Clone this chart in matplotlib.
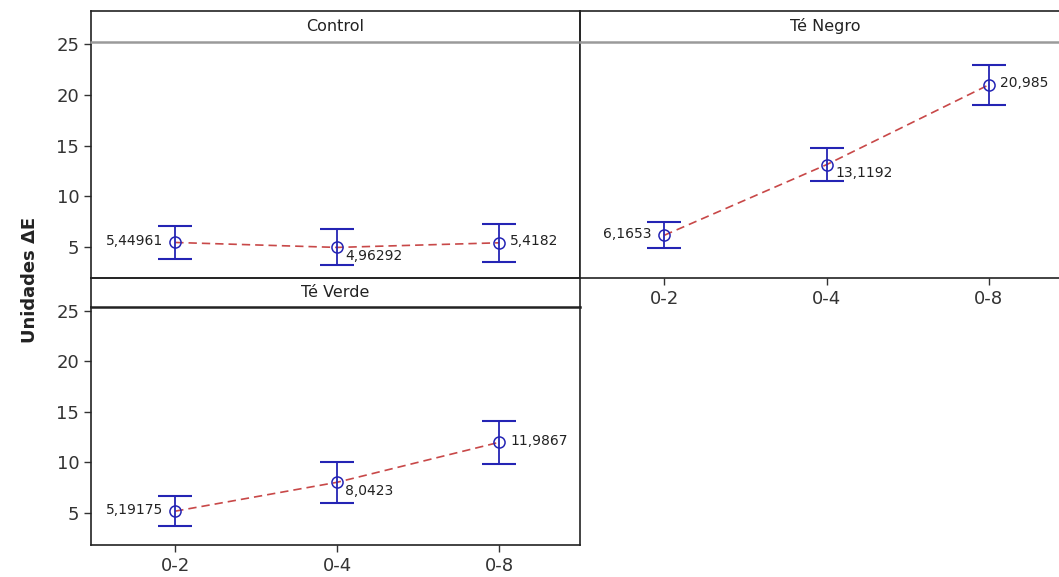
import matplotlib
matplotlib.use("Agg")
import matplotlib.pyplot as plt

categories = ["0-2", "0-4", "0-8"]
panels = ["Control", "Té Negro", "Té Verde"]
means = {
    "Control": [5.44961, 4.96292, 5.4182],
    "Té Negro": [6.1653, 13.1192, 20.985],
    "Té Verde": [5.19175, 8.0423, 11.9867],
}
errors = {
    "Control": [1.65, 1.77, 1.9],
    "Té Negro": [1.3, 1.65, 1.95],
    "Té Verde": [1.5, 2.0, 2.15],
}
value_labels = {
    "Control": ["5,44961", "4,96292", "5,4182"],
    "Té Negro": ["6,1653", "13,1192", "20,985"],
    "Té Verde": ["5,19175", "8,0423", "11,9867"],
}
yticks = [5, 10, 15, 20, 25]

W, H = 1059, 577
fig = plt.figure(figsize=(W / 100, H / 100), dpi=100)
fig.patch.set_facecolor("white")


def box(x0, y0, x1, y1):
    return [x0 / W, 1 - y1 / H, (x1 - x0) / W, (y1 - y0) / H]


layout = {
    "Control": dict(strip=(91, 11, 580, 42), plot=(91, 42, 580, 278), xt=False, yt=True, sepcol="#9a9a9a"),
    "Té Negro": dict(strip=(580, 11, 1070, 42), plot=(580, 42, 1070, 278), xt=True, yt=False, sepcol="#9a9a9a"),
    "Té Verde": dict(strip=(91, 278, 580, 307), plot=(91, 307, 580, 545), xt=True, yt=True, sepcol="#222222"),
}
ylims = {"Control": (1.95, 25.2), "Té Negro": (1.95, 25.2), "Té Verde": (1.85, 25.35)}
# label placement style: 'l' left, 'r' right, 'rb' right-below
placement = ["l", "rb", "r"]

blue = "#2424b4"
for name in panels:
    L = layout[name]
    ax = fig.add_axes(box(*L["plot"]))
    x = list(range(len(categories)))
    ax.plot(x, means[name], linestyle=(0, (5, 3)), color="#c84848", lw=1.2, zorder=2)
    ax.errorbar(x, means[name], yerr=errors[name], fmt="none", ecolor=blue, elinewidth=1.3,
                capsize=12, capthick=1.5, zorder=3)
    ax.plot(x, means[name], "o", mfc="none", mec=blue, ms=8, mew=1.1, zorder=4)
    for i, (xi, yi, lab) in enumerate(zip(x, means[name], value_labels[name])):
        p = placement[i]
        if p == "l":
            ax.annotate(lab, (xi, yi), xytext=(-9, 1), textcoords="offset points",
                        ha="right", va="center", fontsize=10, color="#222222")
        elif p == "r":
            ax.annotate(lab, (xi, yi), xytext=(8, 1), textcoords="offset points",
                        ha="left", va="center", fontsize=10, color="#222222")
        else:
            ax.annotate(lab, (xi, yi), xytext=(6, -6), textcoords="offset points",
                        ha="left", va="center", fontsize=10, color="#222222")
    ax.set_xlim(-0.52, 2.5)
    ax.set_ylim(*ylims[name])
    for s in ax.spines.values():
        s.set_color("#222222"); s.set_linewidth(1.2)
    ax.spines["top"].set_visible(False)
    ax.tick_params(direction="out", length=5, width=1, colors="#333333", labelsize=13)
    if L["yt"]:
        ax.set_yticks(yticks)
    else:
        ax.set_yticks([])
    if L["xt"]:
        ax.set_xticks(x)
        ax.set_xticklabels(categories)
    else:
        ax.set_xticks([])

    sax = fig.add_axes(box(*L["strip"]))
    sax.set_xticks([]); sax.set_yticks([])
    sax.patch.set_alpha(0)
    for s in sax.spines.values():
        s.set_color("#222222"); s.set_linewidth(1.2)
    sax.spines["bottom"].set_color(L["sepcol"])
    sax.spines["bottom"].set_linewidth(1.8)
    sax.text(0.5, 0.5, name, ha="center", va="center", fontsize=11.5, color="#222222",
             transform=sax.transAxes)

fig.text(30 / W, 1 - 280 / H, "Unidades ΔE", rotation=90, ha="center", va="center",
         fontsize=13, fontweight="bold", color="#222222")

fig.savefig("out.png", dpi=100, facecolor="white")
